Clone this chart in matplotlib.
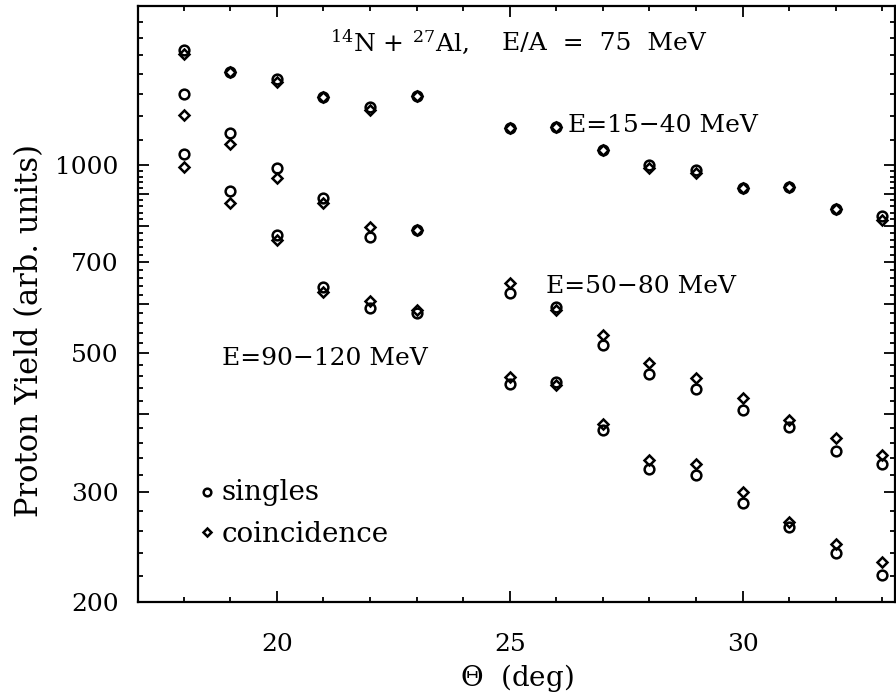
import numpy as np
import matplotlib
matplotlib.use('Agg')
from matplotlib import pyplot as plt
from matplotlib.ticker import FixedLocator, FuncFormatter, NullFormatter

plt.rcParams['font.family'] = ['DejaVu Serif']
plt.rcParams['mathtext.fontset'] = 'dejavuserif'

# scattering angle (deg)
theta = [18, 19, 20, 21, 22, 23, 25, 26, 27, 28, 29, 30, 31, 32, 33]

# proton yields (arb. units)
e15_40_singles = [1532, 1413, 1377, 1289, 1242, 1293, 1149, 1154, 1057, 1002, 984, 921, 924, 852, 831]
e15_40_coinc = [1510, 1413, 1362, 1289, 1228, 1293, 1149, 1154, 1057, 992, 973, 921, 924, 852, 818]
e50_80_singles = [1303, 1128, 992, 888, 769, 789, 625, 594, 516, 463, 439, 406, 381, 349, 333]
e50_80_coinc = [1206, 1083, 955, 871, 798, 789, 649, 587, 535, 483, 457, 424, 391, 366, 344]
e90_120_singles = [1044, 911, 774, 639, 591, 581, 447, 450, 377, 326, 319, 288, 264, 240, 221]
e90_120_coinc = [995, 871, 760, 627, 607, 587, 458, 445, 385, 337, 333, 300, 269, 248, 232]

y_major = [200, 300, 400, 500, 600, 700, 800, 900, 1000]
y_labels = [200, 300, 500, 700, 1000]

fig = plt.figure(figsize=(8.96, 6.96), dpi=100)
ax = fig.add_axes([138 / 896, 94 / 696, 757 / 896, 596 / 696])

mk = dict(linestyle='None', markerfacecolor='none', markeredgecolor='black', markeredgewidth=1.8)
for s, c in [(e15_40_singles, e15_40_coinc), (e50_80_singles, e50_80_coinc), (e90_120_singles, e90_120_coinc)]:
    ax.plot(theta, c, marker='D', markersize=5.3, **mk)
    ax.plot(theta, s, marker='o', markersize=7.0, **mk)

ax.set_yscale('log')
ax.set_xlim(17.02, 33.27)
ax.set_ylim(200, 1800)

# ticks on all sides, pointing in
ax.yaxis.set_major_locator(FixedLocator(y_major))
ax.yaxis.set_major_formatter(FuncFormatter(lambda v, p: f'{int(round(v))}' if int(round(v)) in y_labels else ''))
y_minor = [v for v in range(220, 1000, 20) if v % 100 != 0] + list(range(1100, 1800, 100))
ax.yaxis.set_minor_locator(FixedLocator(y_minor))
ax.yaxis.set_minor_formatter(NullFormatter())
ax.xaxis.set_major_locator(FixedLocator([20, 25, 30]))
ax.xaxis.set_minor_locator(FixedLocator([v for v in range(17, 34) if v % 5 != 0]))
ax.xaxis.set_minor_formatter(NullFormatter())
ax.tick_params(which='both', direction='in', top=True, right=True, width=1.3, colors='black')
ax.tick_params(which='major', length=8)
ax.tick_params(which='minor', length=3.5)
ax.tick_params(axis='y', which='major', labelsize=18, pad=14)
ax.tick_params(axis='x', which='major', labelsize=18, pad=22)
for sp in ax.spines.values():
    sp.set_linewidth(1.6)

ax.set_ylabel('Proton Yield (arb. units)', fontsize=22)
ax.yaxis.set_label_coords(-0.123, 0.456)
ax.set_xlabel(r'$\Theta$  (deg)', fontsize=20)
ax.xaxis.set_label_coords(0.5, -0.1)

# title pieces
ax.text(0.254, 0.926, r'$^{14}$N + $^{27}$Al,', transform=ax.transAxes, fontsize=18, va='baseline')
ax.text(0.481, 0.926, 'E/A  =  75  MeV', transform=ax.transAxes, fontsize=18, va='baseline')
ax.text(0.568, 0.789, 'E=15\u221240 MeV', transform=ax.transAxes, fontsize=18, va='baseline')
ax.text(0.539, 0.5185, 'E=50\u221280 MeV', transform=ax.transAxes, fontsize=18, va='baseline')
ax.text(0.111, 0.398, 'E=90\u2212120 MeV', transform=ax.transAxes, fontsize=18, va='baseline')

# legend drawn by hand
ax.plot([0.0911], [0.185], marker='o', markersize=5.5, transform=ax.transAxes, **mk)
ax.plot([0.0911], [0.118], marker='D', markersize=4.2, transform=ax.transAxes, **mk)
ax.text(0.11, 0.171, 'singles', transform=ax.transAxes, fontsize=20, va='baseline')
ax.text(0.11, 0.101, 'coincidence', transform=ax.transAxes, fontsize=20, va='baseline')

fig.savefig('out.png', dpi=100)
